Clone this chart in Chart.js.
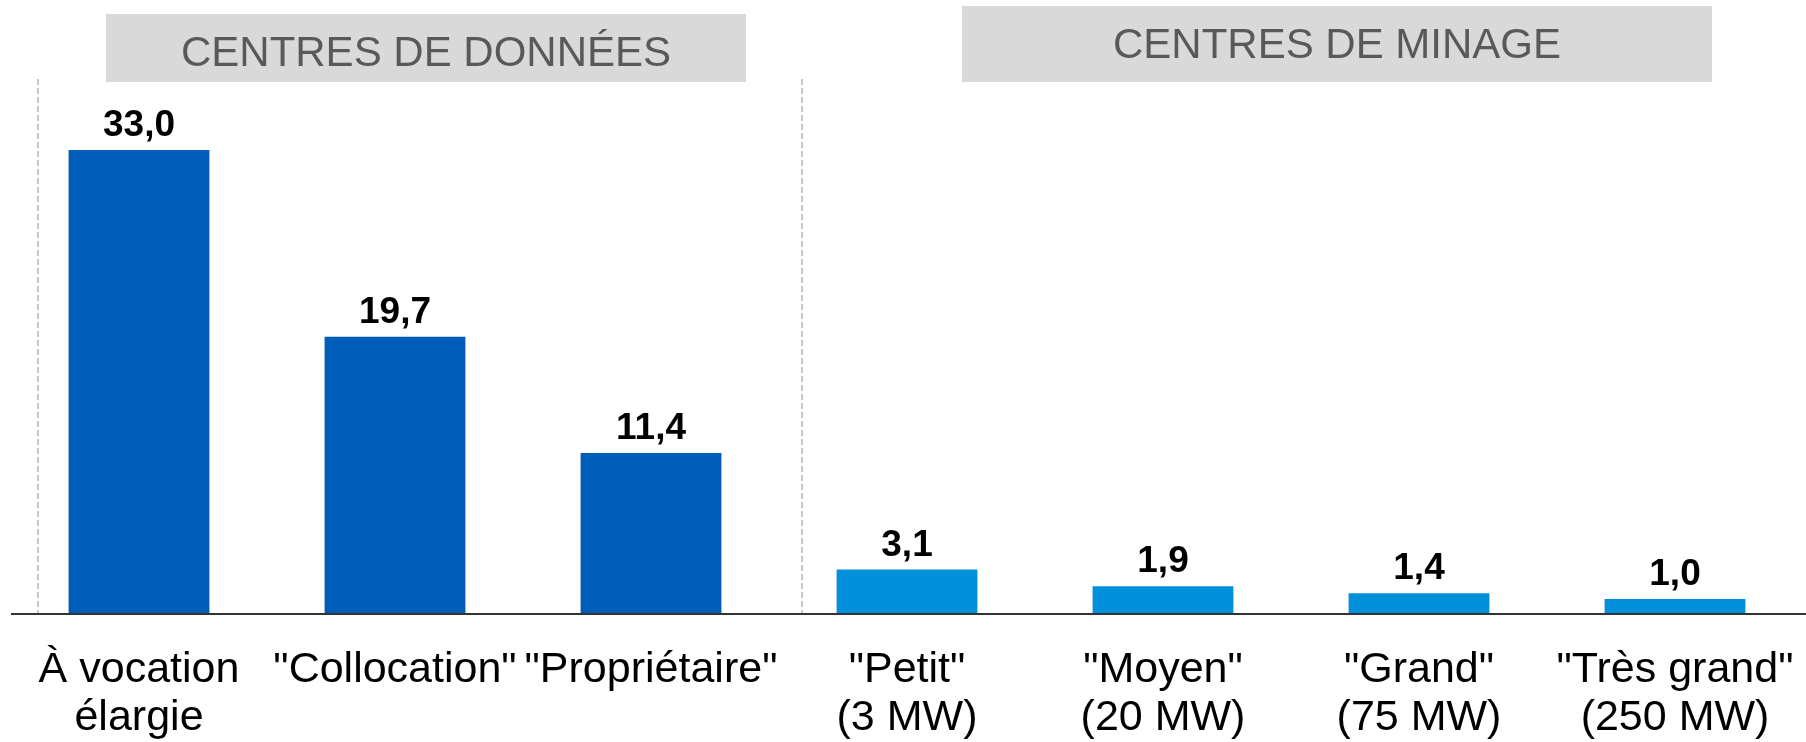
<!DOCTYPE html>
<html>
<head>
<meta charset="utf-8">
<script src="https://cdn.jsdelivr.net/npm/chart.js@4/dist/chart.umd.min.js"></script>
<style>
  html, body { margin: 0; padding: 0; background: #fff; }
  #wrap { width: 1806px; height: 742px; position: relative; }
</style>
</head>
<body>
<div id="wrap"><canvas id="c"></canvas></div>
<script>
// ---- Data ----
const categories = [
  ["À vocation", "élargie"],
  "\"Collocation\"",
  "\"Propriétaire\"",
  ["\"Petit\"", "(3 MW)"],
  ["\"Moyen\"", "(20 MW)"],
  ["\"Grand\"", "(75 MW)"],
  ["\"Très grand\"", "(250 MW)"]
];
const values = [33.0, 19.7, 11.4, 3.1, 1.9, 1.4, 1.0];
const groupOf = [0, 0, 0, 1, 1, 1, 1];
const groupTitles = ["CENTRES DE DONNÉES", "CENTRES DE MINAGE"];

// ---- Styles ----
const groupColors = ["#005EB8", "#0091DA"];
const FONT = "'Liberation Sans', Arial, Helvetica, sans-serif";

const decorations = {
  id: 'decorations',
  beforeDatasetsDraw(chart) {
    const ctx = chart.ctx;
    const y0 = chart.scales.y.getPixelForValue(0);
    ctx.save();
    // dashed separators
    ctx.strokeStyle = '#c8c8c8';
    ctx.lineWidth = 2;
    ctx.setLineDash([6, 3]);
    [38, 802].forEach(x => {
      ctx.beginPath();
      ctx.moveTo(x, 79);
      ctx.lineTo(x, y0);
      ctx.stroke();
    });
    ctx.setLineDash([]);
    // header boxes
    const boxes = [
      { x0: 106, x1: 746, y0: 14, y1: 82, base: 66 },
      { x0: 962, x1: 1712, y0: 6, y1: 82, base: 58 }
    ];
    boxes.forEach((b, i) => {
      ctx.fillStyle = '#D9D9D9';
      ctx.fillRect(b.x0, b.y0, b.x1 - b.x0, b.y1 - b.y0);
      ctx.fillStyle = '#595959';
      ctx.font = '42px ' + FONT;
      ctx.textAlign = 'center';
      ctx.textBaseline = 'alphabetic';
      ctx.fillText(groupTitles[i], (b.x0 + b.x1) / 2, b.base);
    });
    ctx.restore();
  },
  afterDatasetsDraw(chart) {
    const ctx = chart.ctx;
    const y0 = chart.scales.y.getPixelForValue(0);
    ctx.save();
    // axis line
    ctx.strokeStyle = '#333333';
    ctx.lineWidth = 2;
    ctx.beginPath();
    ctx.moveTo(11, y0 + 1);
    ctx.lineTo(chart.width, y0 + 1);
    ctx.stroke();
    // value labels
    const meta = chart.getDatasetMeta(0);
    ctx.fillStyle = '#000';
    ctx.font = 'bold 37px ' + FONT;
    ctx.textAlign = 'center';
    ctx.textBaseline = 'alphabetic';
    meta.data.forEach((bar, i) => {
      const txt = values[i].toFixed(1).replace('.', ',');
      ctx.fillText(txt, bar.x, bar.y - 14);
    });
    ctx.restore();
  }
};

new Chart(document.getElementById('c'), {
  type: 'bar',
  data: {
    labels: categories,
    datasets: [{
      data: values,
      backgroundColor: values.map((v, i) => groupColors[groupOf[i]]),
      borderWidth: 0,
      barPercentage: 0.55,
      categoryPercentage: 1.0
    }]
  },
  options: {
    responsive: true,
    maintainAspectRatio: false,
    animation: false,
    layout: { padding: { left: 11, right: 3, top: 0, bottom: 0 } },
    plugins: {
      legend: { display: false },
      tooltip: { enabled: false },
      title: { display: false }
    },
    scales: {
      x: {
        grid: { display: false, drawTicks: false },
        border: { display: false },
        ticks: {
          color: '#000',
          font: { family: FONT, size: 43, lineHeight: 48 / 43 },
          padding: 33,
          autoSkip: false,
          maxRotation: 0,
          minRotation: 0
        },
        afterFit(scale) {
          scale.height = 129;
          scale.paddingLeft = 0;
          scale.paddingRight = 0;
        }
      },
      y: {
        display: false,
        min: 0,
        max: 43.7
      }
    }
  },
  plugins: [decorations]
});
</script>
</body>
</html>
